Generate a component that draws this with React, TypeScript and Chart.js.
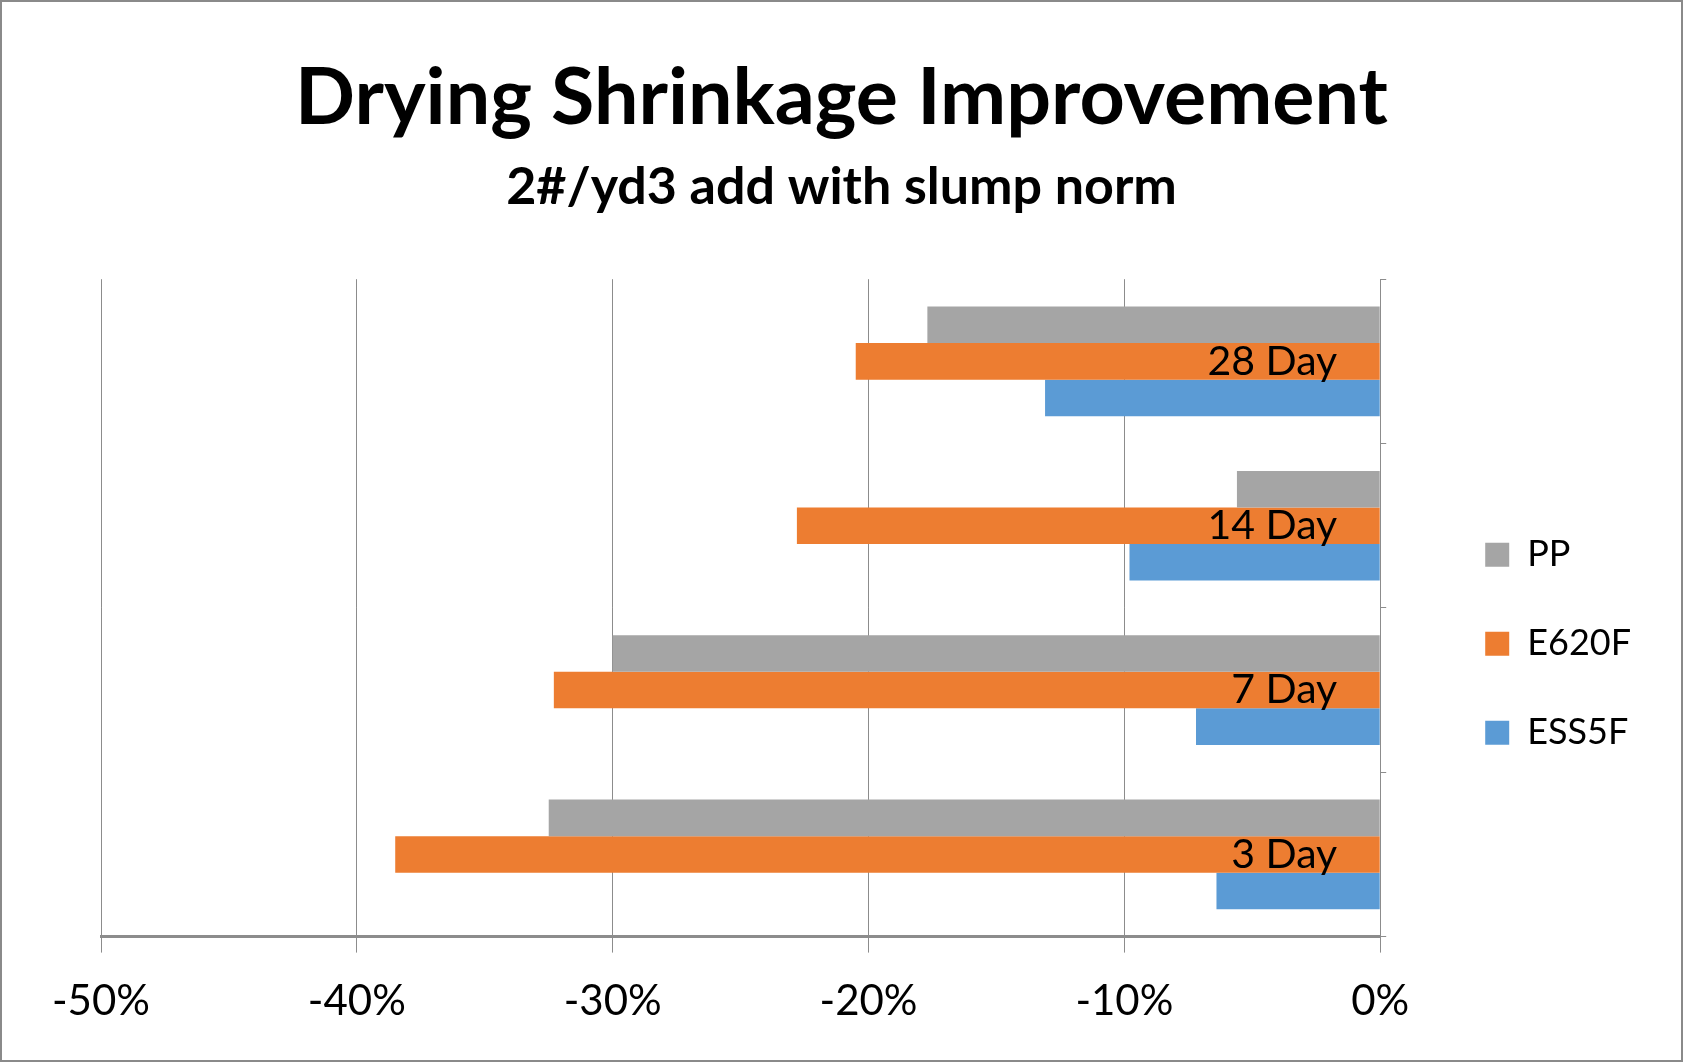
import React, { useEffect, useRef } from 'react';
import { Chart, registerables } from 'chart.js';

Chart.register(...registerables);

const categories = ['28 Day', '14 Day', '7 Day', '3 Day'];
const seriesNames = ['PP', 'E620F', 'ESS5F'];
const ppValues = [-17.7, -5.6, -30.0, -32.5];
const e620fValues = [-20.5, -22.8, -32.3, -38.5];
const ess5fValues = [-13.1, -9.8, -7.2, -6.4];
const xTickValues = [-50, -40, -30, -20, -10, 0];
const seriesColors = ['#A5A5A5', '#ED7D31', '#5B9BD5'];
const titleText = 'Drying Shrinkage Improvement';
const subtitleText = '2#/yd3 add with slump norm';

const W = 1683;
const H = 1062;
const FONT = 'Lato, "Open Sans", sans-serif';

const framePlugin = {
  id: 'frame',
  beforeDraw(chart: any) {
    const ctx = chart.ctx;
    ctx.save();
    ctx.fillStyle = '#ffffff';
    ctx.fillRect(0, 0, chart.width, chart.height);
    ctx.strokeStyle = '#8a8a8a';
    ctx.lineWidth = 2;
    ctx.strokeRect(1, 1, chart.width - 2, chart.height - 2);
    ctx.restore();
  },
};

const categoryLabelPlugin = {
  id: 'categoryLabels',
  afterDatasetsDraw(chart: any) {
    const ctx = chart.ctx;
    const xs = chart.scales.x;
    const ys = chart.scales.y;
    const x0 = xs.getPixelForValue(0);
    ctx.save();
    ctx.font = `41px ${FONT}`;
    ctx.fillStyle = '#000000';
    ctx.textAlign = 'right';
    ctx.textBaseline = 'middle';
    categories.forEach((c, i) => {
      ctx.fillText(c, x0 - 43, ys.getPixelForValue(i));
    });
    ctx.restore();
  },
};

export default function App() {
  const ref = useRef<HTMLCanvasElement | null>(null);

  useEffect(() => {
    document.body.style.margin = '0';
    const canvas = ref.current;
    if (!canvas) return;
    const seriesValues = [ppValues, e620fValues, ess5fValues];
    const chart = new Chart(canvas, {
      type: 'bar',
      data: {
        labels: categories,
        datasets: seriesNames.map((name, i) => ({
          label: name,
          data: seriesValues[i],
          backgroundColor: seriesColors[i],
          borderColor: seriesColors[i],
          borderWidth: 0,
          barPercentage: 1.0,
          categoryPercentage: 0.667,
        })),
      },
      options: {
        indexAxis: 'y',
        responsive: false,
        animation: false,
        devicePixelRatio: 1,
        layout: { padding: { left: 42, right: 42, top: 0, bottom: 11 } },
        scales: {
          x: {
            type: 'linear',
            min: -50,
            max: 0,
            afterBuildTicks: (scale: any) => {
              scale.ticks = xTickValues.map((v) => ({ value: v }));
            },
            grid: {
              color: '#8c8c8c',
              lineWidth: 1,
              tickLength: 16,
              drawTicks: true,
            },
            border: { color: '#8c8c8c', width: 3 },
            ticks: {
              font: { family: FONT, size: 42 },
              color: '#000000',
              padding: 24,
              maxRotation: 0,
              callback: (v: any) => `${v}%`,
            },
          },
          y: {
            position: 'right',
            grid: {
              drawOnChartArea: false,
              drawTicks: true,
              tickLength: 6,
              color: '#8c8c8c',
            },
            border: { display: false },
            ticks: { display: false },
            afterFit: (scale: any) => {
              scale.width = 52;
            },
          },
          yPad: {
            type: 'category',
            position: 'left',
            grid: { display: false },
            border: { display: false },
            ticks: { display: false },
            afterFit: (scale: any) => {
              scale.width = 59;
            },
          },
        },
        plugins: {
          title: {
            display: true,
            text: titleText,
            color: '#000000',
            font: { family: FONT, size: 79, weight: 'bold' },
            padding: { top: 51, bottom: 0 },
          },
          subtitle: {
            display: true,
            text: subtitleText,
            color: '#000000',
            font: { family: FONT, size: 52, weight: 'bold' },
            padding: { top: 10, bottom: 61 },
          },
          legend: {
            position: 'right',
            align: 'center',
            fullSize: false,
            title: {
              display: true,
              text: ' ',
              font: { family: FONT, size: 14 },
              padding: { top: 28, bottom: 27 },
            },
            labels: {
              boxWidth: 24,
              boxHeight: 24,
              padding: 53,
              color: '#000000',
              font: { family: FONT, size: 36 },
            },
          },
          tooltip: { enabled: false },
        },
      },
      plugins: [framePlugin, categoryLabelPlugin],
    });
    return () => chart.destroy();
  }, []);

  return (
    <div style={{ width: W, height: H }}>
      <canvas ref={ref} width={W} height={H} style={{ display: 'block' }} />
    </div>
  );
}
